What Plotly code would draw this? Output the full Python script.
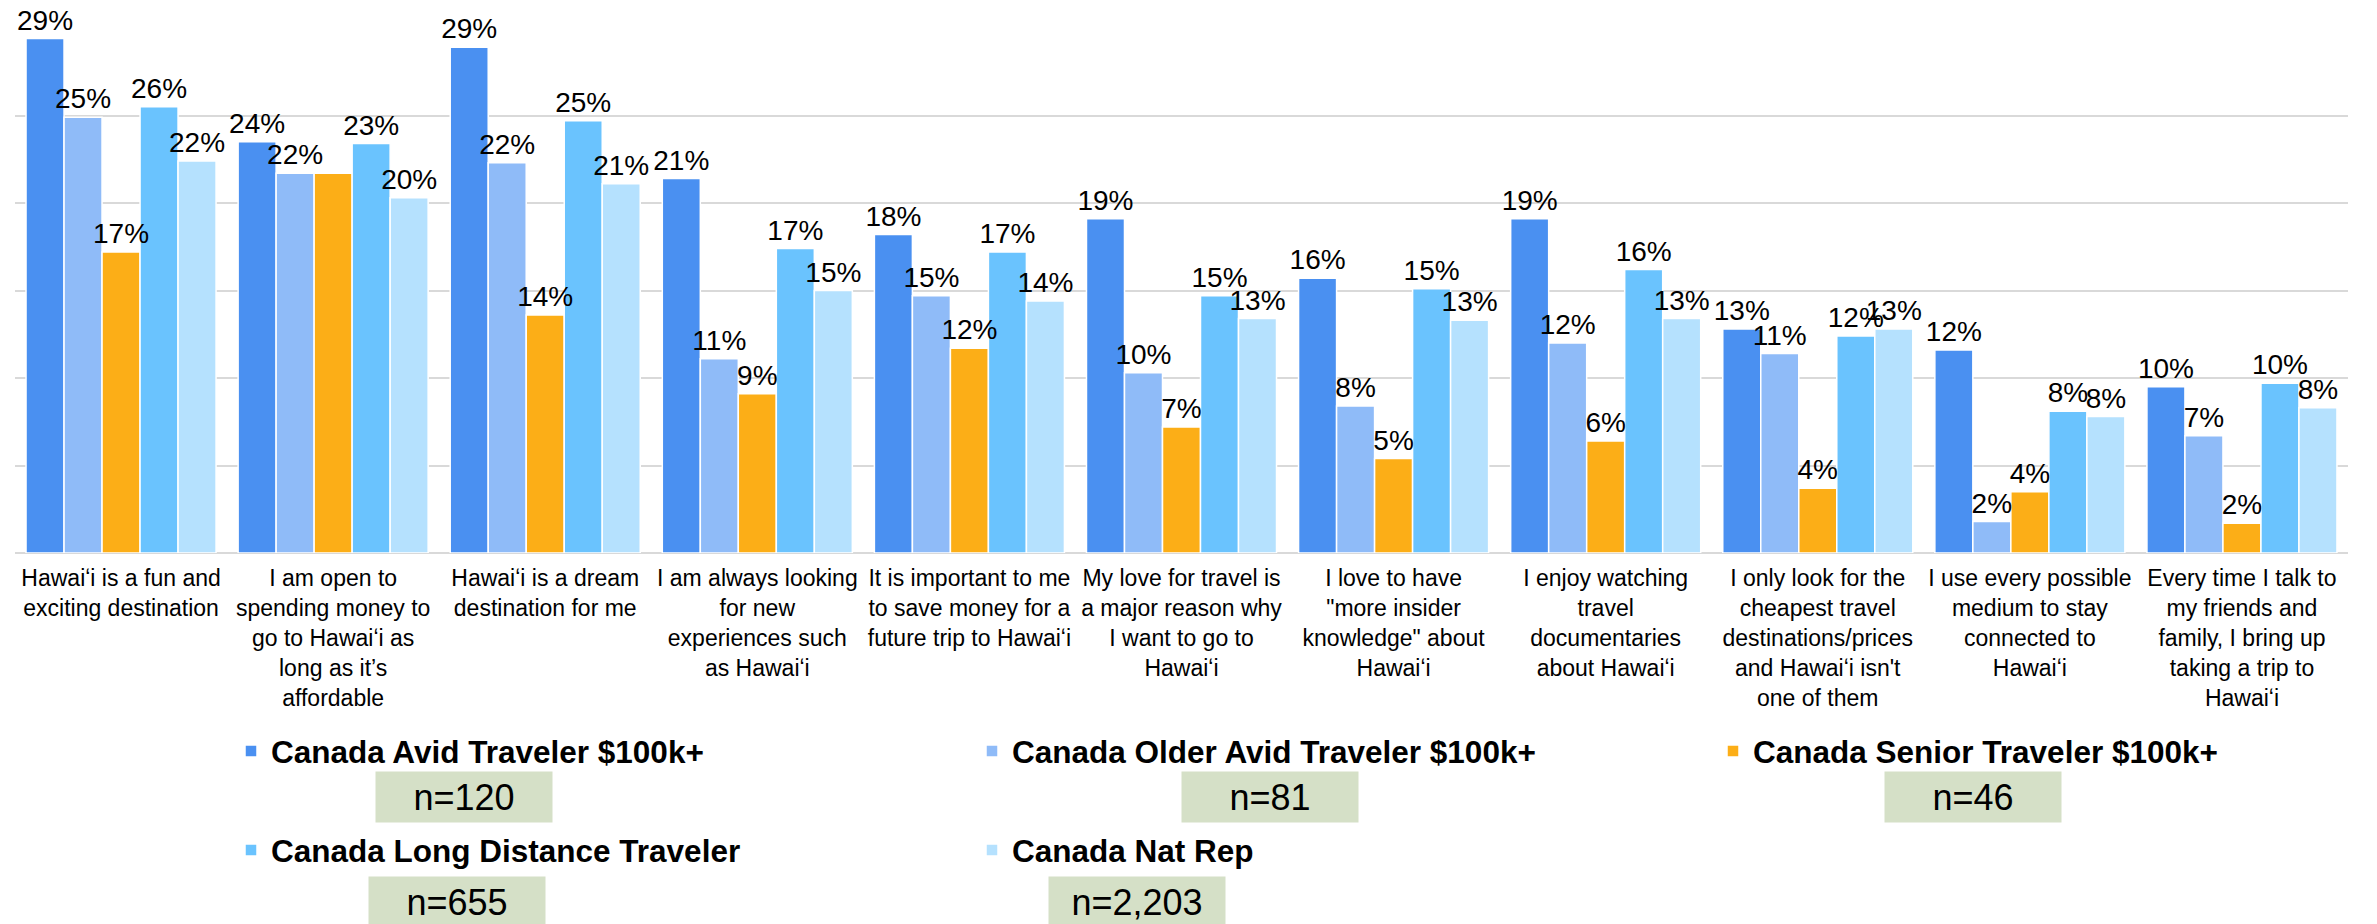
import plotly.graph_objects as go

categories = [
    "Hawaiʻi is a fun and<br>exciting destination",
    "I am open to<br>spending money to<br>go to Hawaiʻi as<br>long as it’s<br>affordable",
    "Hawaiʻi is a dream<br>destination for me",
    "I am always looking<br>for new<br>experiences such<br>as Hawaiʻi",
    "It is important to me<br>to save money for a<br>future trip to Hawaiʻi",
    "My love for travel is<br>a major reason why<br>I want to go to<br>Hawaiʻi",
    "I love to have<br>\"more insider<br>knowledge\" about<br>Hawaiʻi",
    "I enjoy watching<br>travel<br>documentaries<br>about Hawaiʻi",
    "I only look for the<br>cheapest travel<br>destinations/prices<br>and Hawaiʻi isn't<br>one of them",
    "I use every possible<br>medium to stay<br>connected to<br>Hawaiʻi",
    "Every time I talk to<br>my friends and<br>family, I bring up<br>taking a trip to<br>Hawaiʻi",
]

avid_100k = [29.4, 23.5, 28.9, 21.4, 18.2, 19.1, 15.7, 19.1, 12.8, 11.6, 9.5]
older_avid_100k = [24.9, 21.7, 22.3, 11.1, 14.7, 10.3, 8.4, 12.0, 11.4, 1.8, 6.7]
senior_100k = [17.2, 21.7, 13.6, 9.1, 11.7, 7.2, 5.4, 6.4, 3.7, 3.5, 1.7]
long_distance = [25.5, 23.4, 24.7, 17.4, 17.2, 14.7, 15.1, 16.2, 12.4, 8.1, 9.7]
nat_rep = [22.4, 20.3, 21.1, 15.0, 14.4, 13.4, 13.3, 13.4, 12.8, 7.8, 8.3]

series_names = [
    "Canada Avid Traveler $100k+",
    "Canada Older Avid Traveler $100k+",
    "Canada Senior Traveler $100k+",
    "Canada Long Distance Traveler",
    "Canada Nat Rep",
]
series_values = [avid_100k, older_avid_100k, senior_100k, long_distance, nat_rep]
series_colors = ["#4A90F1", "#8FBBF8", "#FCAE17", "#6AC3FE", "#B5E1FE"]
series_legend = ["legend", "legend", "legend", "legend2", "legend2"]
sample_sizes = ["n=120", "n=81", "n=46", "n=655", "n=2,203"]
# value labels not shown in the reference: (series index, category index)
hidden_labels = [(2, 1)]

FONT = "Liberation Sans, Arial, sans-serif"
W, H = 2377, 924
OFF = 8  # page body margin offset
ML, MT = 15 - OFF, 28 - OFF
MR = W - (2348 - OFF)
MB = H - (553 - OFF)
PW = W - ML - MR
PH = H - MT - MB

fig = go.Figure()
# coloured bars
for i, (name, vals, col, lg) in enumerate(zip(series_names, series_values, series_colors, series_legend)):
    fig.add_trace(go.Bar(
        x=categories, y=vals, name=name, offsetgroup=str(i),
        marker=dict(color=col, line=dict(color="white", width=1.5)),
        legend=lg, hoverinfo="skip",
    ))
# value labels drawn on top of all bars (transparent twins in the same offset groups)
for i, (name, vals) in enumerate(zip(series_names, series_values)):
    labels = ["" if (i, j) in hidden_labels else f"{round(v)}%" for j, v in enumerate(vals)]
    fig.add_trace(go.Bar(
        x=categories, y=vals, name=name, offsetgroup=str(i),
        marker=dict(color="rgba(0,0,0,0)", line=dict(width=0)),
        text=labels,
        textposition="outside", constraintext="none",
        textfont=dict(family=FONT, size=28, color="black"),
        cliponaxis=False, showlegend=False, hoverinfo="skip",
    ))

# n-size boxes (pixel centers in the window)
box_pos = [(464, 797), (1270, 797), (1973, 797), (457, 902), (1137, 902)]
for txt, (px, py) in zip(sample_sizes, box_pos):
    fx, fy = px - OFF, py - OFF
    fig.add_annotation(
        x=(fx - ML) / PW, y=(H - MB - fy) / PH, xref="paper", yref="paper",
        text=txt, showarrow=False, xanchor="center", yanchor="middle",
        width=176, height=50, bgcolor="#D5E0C7", borderpad=0,
        font=dict(family=FONT, size=36, color="black"),
    )

legend_common = dict(
    orientation="h", xref="container", yref="container",
    xanchor="left", yanchor="middle",
    font=dict(family=FONT, size=31.5, color="black", weight="bold"),
    entrywidth=696, entrywidthmode="pixels",
    bgcolor="rgba(0,0,0,0)", itemclick=False, itemdoubleclick=False,
)

fig.update_layout(
    width=W, height=H,
    margin=dict(l=ML, r=MR, t=MT, b=MB, autoexpand=False),
    plot_bgcolor="white", paper_bgcolor="white",
    barmode="group", bargap=0.104, bargroupgap=0,
    showlegend=True,
    legend=dict(x=223 / W, y=1 - 743 / H, **legend_common),
    legend2=dict(x=223 / W, y=1 - 842 / H, **legend_common),
    font=dict(family=FONT, color="black"),
    xaxis=dict(
        tickfont=dict(family=FONT, size=23, color="black"),
        tickangle=0, ticks="", showline=False, showgrid=False,
        automargin=False, ticklabelstandoff=9,
    ),
    yaxis=dict(
        range=[0, 30], dtick=5, showticklabels=False, ticks="",
        showgrid=True, gridcolor="#D9D9D9", gridwidth=2,
        zeroline=True, zerolinecolor="#D9D9D9", zerolinewidth=2,
        showline=False, automargin=False,
    ),
)

fig.write_html("out.html")
